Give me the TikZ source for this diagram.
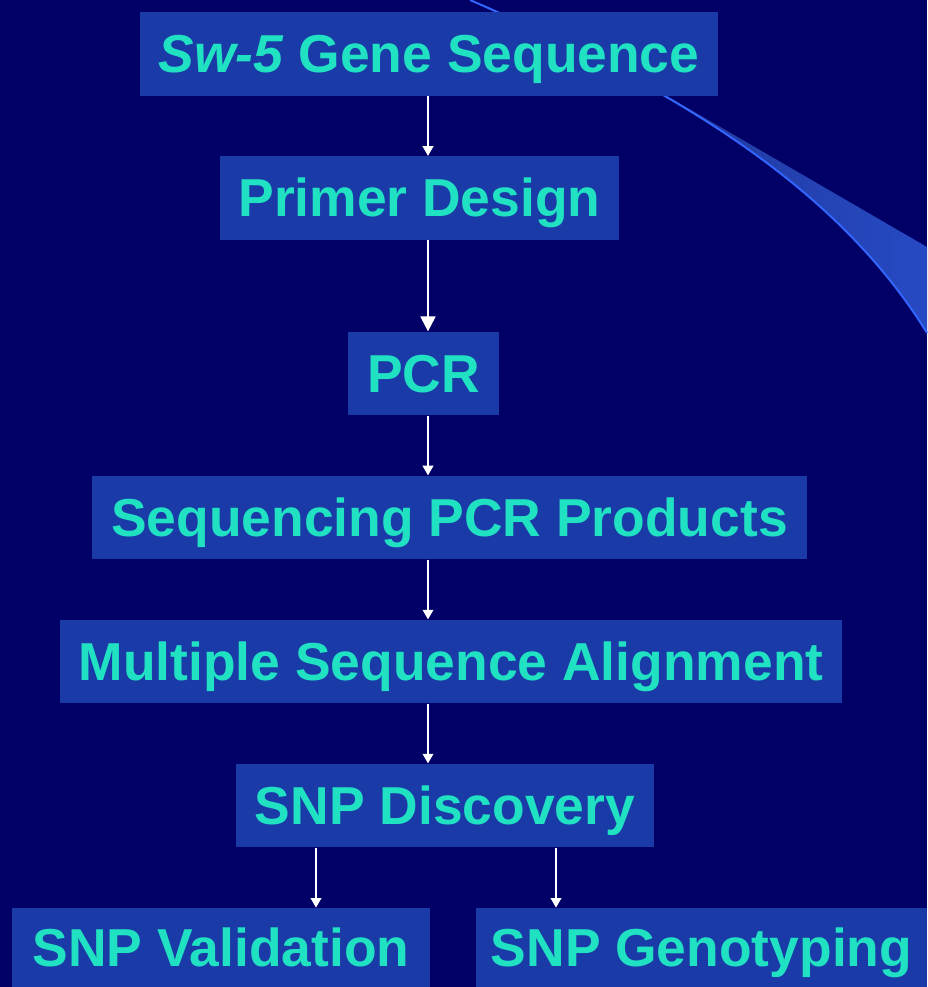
\documentclass[tikz,border=0pt]{standalone}
\usepackage{fontspec}
\setmainfont{Liberation Sans}
\usepackage{xcolor}
\usepackage{tikz}
\usetikzlibrary{
	arrows.meta,
	calc,
	positioning
}
\definecolor{NavyBack}{RGB}{0,0,102}
\definecolor{BoxBlue}{RGB}{26,58,168}
\definecolor{Turq}{RGB}{32,226,194}
\definecolor{Swoosh}{RGB}{51,102,255}
\definecolor{WedgeDark}{RGB}{30,42,125}
\definecolor{WedgeLight}{RGB}{38,74,196}

\begin{document}
\begin{tikzpicture}[x=0.02cm, y=-0.02cm,
		box/.style={fill=BoxBlue, text=Turq, inner sep=0pt, minimum height=1.67cm,
			font=\fontsize{30.4}{36}\selectfont\bfseries, text height=21.5pt, text depth=0pt},
		flow/.style={draw=white, line width=1.1pt, -{Triangle[width=6pt,length=5.5pt]}},
		bigflow/.style={flow, -{Triangle[width=8.5pt,length=8.5pt]}}]
		% 背景
		\fill[NavyBack] (0,0) rectangle (927,987);
		\useasboundingbox (0,0) rectangle (927,987);
		
		% 右上角的弧线和渐变楔形
		\shade[left color=WedgeDark, right color=WedgeLight]
			(470,0) .. controls (650,78) and (830,175) .. (927,333) -- (927,247) -- (667,96) -- cycle;
		\draw[Swoosh, line width=1.1pt] (470,0) .. controls (650,78) and (830,175) .. (927,333);
		
		% 流程框
		\node[box, minimum width=11.56cm] (gene) at (429,54) {\textit{Sw-5} Gene Sequence};
		\node[box, minimum width=7.98cm] (primer) at (419.5,198) {Primer Design};
		\node[box, minimum width=3.02cm] (pcr) at (423.5,373.5) {PCR};
		\node[box, minimum width=14.3cm] (seqpcr) at (449.5,517.5) {Sequencing PCR Products};
		\node[box, minimum width=15.64cm] (msa) at (451,661.5) {Multiple Sequence Alignment};
		\node[box, minimum width=8.36cm] (discovery) at (445,805.5) {SNP Discovery};
		\node[box, minimum width=8.36cm, minimum height=1.58cm] (validation) at (221,947.5) {SNP Validation};
		\node[box, minimum width=9.02cm, minimum height=1.58cm] (genotyping) at (701.5,947.5) {SNP Genotyping};
		
		% 箭头
		\coordinate (axis) at (428,0);
		\coordinate (left) at (316,0);
		\coordinate (right) at (556,0);
		\draw[flow] (axis |- gene.south) -- (axis |- primer.north);
		\draw[bigflow] (axis |- primer.south) -- (axis |- pcr.north);
		\draw[flow] (axis |- pcr.south) -- (axis |- seqpcr.north);
		\draw[flow] (axis |- seqpcr.south) -- (axis |- msa.north);
		\draw[flow] (axis |- msa.south) -- (axis |- discovery.north);
		\draw[flow] (left |- discovery.south) -- (left |- validation.north);
		\draw[flow] (right |- discovery.south) -- (right |- genotyping.north);
	\end{tikzpicture}
\end{document}
